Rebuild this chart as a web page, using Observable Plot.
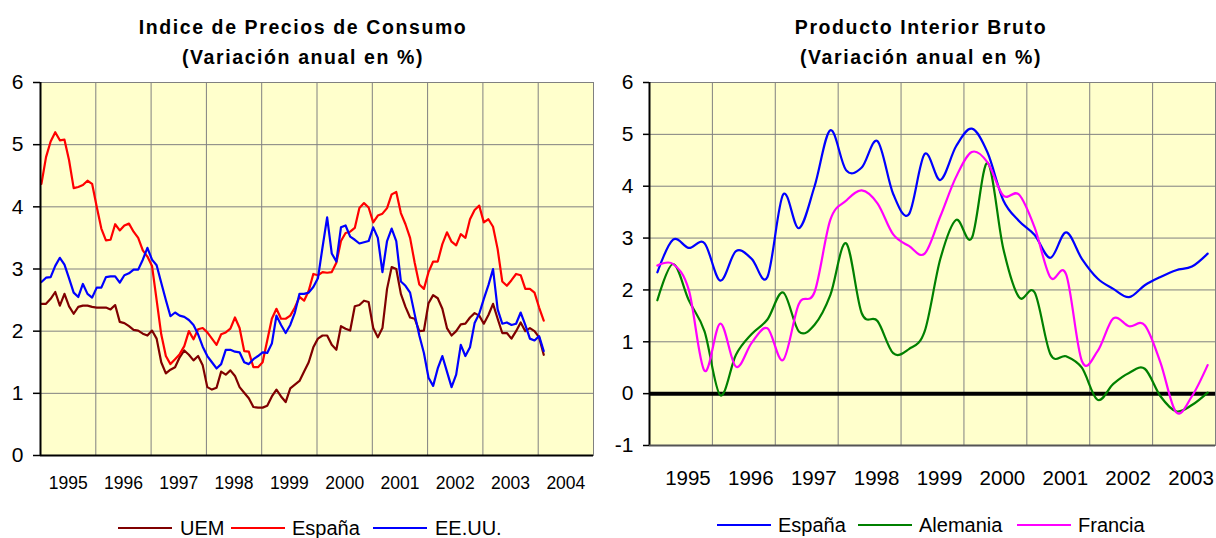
<!DOCTYPE html>
<html><head><meta charset="utf-8">
<script src="https://cdn.jsdelivr.net/npm/d3@7"></script>
<script src="https://cdn.jsdelivr.net/npm/@observablehq/plot@0.6"></script>
<style>
body{margin:0;background:#fff;font-family:"Liberation Sans",Arial,sans-serif;}
#wrap{position:relative;width:1216px;height:538px;overflow:hidden;background:#fff;}
.t{position:absolute;font-weight:bold;font-size:19.5px;line-height:1;letter-spacing:1.6px;white-space:nowrap;transform:translateX(-50%);color:#000;}
.chart{position:absolute;top:0;}
.li{position:absolute;height:2px;width:54px;}
.lt{position:absolute;font-size:20px;line-height:1;white-space:nowrap;color:#000;}
</style></head>
<body>
<div id="wrap">
  <div class="t" style="left:303px;top:18px">Indice de Precios de Consumo</div>
  <div class="t" style="left:303px;top:48px">(Variación anual en %)</div>
  <div class="t" style="left:921px;top:18px">Producto Interior Bruto</div>
  <div class="t" style="left:921px;top:48px">(Variación anual en %)</div>
  <div id="c1" class="chart" style="left:0px"></div>
  <div id="c2" class="chart" style="left:600px"></div>
  <div id="leg"></div>
</div>
<script>
// ---------- IPC (monthly, Jan 1995 - Feb 2004) ----------
const ipcSeries = ["UEM", "España", "EE.UU."];
const ipcColors = ["#800000", "#FF0000", "#0000FF"];
const ipcUEM = [2.44,2.44,2.52,2.63,2.41,2.6,2.4,2.28,2.39,2.41,2.41,2.39,
  2.38,2.38,2.38,2.35,2.42,2.15,2.13,2.08,2.02,2.01,1.96,1.93,
  2.01,1.88,1.5,1.32,1.38,1.42,1.58,1.69,1.62,1.53,1.6,1.45,
  1.1,1.06,1.09,1.35,1.3,1.37,1.28,1.1,1.01,0.92,0.78,0.77,
  0.77,0.8,0.95,1.06,0.95,0.86,1.08,1.14,1.2,1.35,1.5,1.74,
  1.88,1.93,1.93,1.78,1.7,2.08,2.04,2.01,2.4,2.42,2.49,2.47,
  2.05,1.9,2.05,2.68,3.03,3.0,2.6,2.39,2.22,2.2,2.0,2.01,
  2.45,2.58,2.53,2.36,2.05,1.93,2.0,2.11,2.12,2.22,2.29,2.25,
  2.12,2.26,2.44,2.2,1.97,1.97,1.88,2.0,2.14,2.0,2.05,2.0,
  1.9,1.62];
const ipcEspana = [4.37,4.8,5.05,5.2,5.07,5.08,4.75,4.3,4.32,4.35,4.42,4.37,
  4.0,3.65,3.46,3.47,3.72,3.62,3.7,3.73,3.6,3.5,3.3,3.2,
  3.05,2.5,1.95,1.6,1.47,1.55,1.63,1.76,2.0,1.87,2.03,2.05,
  1.98,1.88,1.78,1.95,1.98,2.04,2.22,2.05,1.68,1.67,1.42,1.42,
  1.5,1.85,2.2,2.36,2.2,2.2,2.25,2.38,2.55,2.49,2.65,2.92,
  2.9,2.95,2.94,2.95,3.1,3.45,3.58,3.6,3.66,3.98,4.06,3.99,
  3.75,3.86,3.89,3.98,4.2,4.24,3.9,3.72,3.5,3.1,2.75,2.68,
  2.95,3.12,3.12,3.4,3.59,3.44,3.38,3.56,3.5,3.8,3.95,4.02,
  3.75,3.8,3.68,3.32,2.8,2.73,2.82,2.92,2.9,2.68,2.68,2.62,
  2.38,2.17];
const ipcEEUU = [2.79,2.86,2.87,3.05,3.18,3.07,2.85,2.62,2.55,2.76,2.6,2.54,
  2.7,2.7,2.87,2.88,2.88,2.78,2.9,2.93,2.99,2.99,3.15,3.34,
  3.15,3.06,2.78,2.5,2.24,2.3,2.25,2.23,2.18,2.1,1.95,1.75,
  1.6,1.5,1.4,1.47,1.7,1.7,1.67,1.66,1.5,1.47,1.55,1.6,
  1.66,1.65,1.8,2.25,2.1,1.97,2.1,2.3,2.6,2.6,2.62,2.71,
  2.85,3.35,3.83,3.25,3.12,3.67,3.7,3.52,3.47,3.41,3.43,3.45,
  3.67,3.5,2.95,3.45,3.65,3.45,2.8,2.73,2.62,2.27,1.93,1.65,
  1.25,1.12,1.4,1.6,1.35,1.1,1.3,1.78,1.6,1.74,2.13,2.28,
  2.52,2.74,3.0,2.35,2.12,2.14,2.1,2.12,2.3,2.1,1.88,1.85,
  1.92,1.68];
const ipcYears = [1995,1996,1997,1998,1999,2000,2001,2002,2003,2004];
const ipcTicksY = [0,1,2,3,4,5,6];

// ---------- PIB (quarterly, 1995Q1 - 2003Q4) ----------
const pibSeries = ["España", "Alemania", "Francia"];
const pibColors = ["#0000FF", "#008000", "#FF00FF"];
const pibEspana = [2.34,2.97,2.81,2.9,2.18,2.75,2.6,2.25,3.84,3.19,4.0,5.08,
  4.31,4.36,4.87,3.85,3.46,4.62,4.12,4.77,5.11,4.65,3.73,3.33,
  3.06,2.62,3.11,2.6,2.22,2.02,1.86,2.09,2.25,2.38,2.45,2.7];
const pibAlemania = [1.8,2.5,1.8,1.2,-0.03,0.75,1.15,1.43,1.95,1.2,1.33,1.9,
  2.9,1.55,1.4,0.78,0.86,1.2,2.6,3.35,3.0,4.45,2.8,1.86,
  1.95,0.76,0.72,0.5,-0.12,0.19,0.4,0.48,-0.05,-0.34,-0.22,0.02];
const pibFrancia = [2.47,2.5,2.0,0.44,1.35,0.52,0.98,1.26,0.65,1.73,1.96,3.35,
  3.72,3.92,3.67,3.07,2.85,2.7,3.42,4.18,4.66,4.46,3.82,3.84,
  3.2,2.24,2.3,0.63,0.82,1.45,1.3,1.32,0.6,-0.36,-0.05,0.55];
const pibYears = [1995,1996,1997,1998,1999,2000,2001,2002,2003];
const pibTicksY = [-1,0,1,2,3,4,5,6];

// long-format tables
const ipcData = [ipcUEM, ipcEspana, ipcEEUU].flatMap((arr, k) =>
  arr.map((v, m) => ({serie: ipcSeries[k], t: 1995 + (m + 0.2) / 12, v})));
const pibData = [pibEspana, pibAlemania, pibFrancia].flatMap((arr, k) =>
  arr.map((v, q) => ({serie: pibSeries[k], t: 1995 + 0.125 + q * 0.25, v})));

const font = "Liberation Sans, Arial, sans-serif";
const grid = "#808080";
const intFmt = d => String(d);

const left = Plot.plot({
  width: 600, height: 500,
  marginLeft: 40, marginRight: 7, marginTop: 82, marginBottom: 45,
  x: {domain: [1995, 2005], axis: null, label: null},
  y: {domain: [0, 6], axis: null, label: null},
  color: {domain: ipcSeries, range: ipcColors},
  style: {fontFamily: font, color: "black", background: "transparent", overflow: "visible"},
  marks: [
    Plot.frame({fill: "#FFFFCC", stroke: grid}),
    Plot.gridX(ipcYears.slice(1), {stroke: grid, strokeOpacity: 1}),
    Plot.gridY(ipcTicksY.slice(1), {stroke: grid, strokeOpacity: 1}),
    Plot.line(ipcData, {x: "t", y: "v", z: "serie", stroke: "serie", strokeWidth: 2.2}),
    Plot.ruleX([1995], {stroke: "black", strokeWidth: 2}),
    Plot.ruleY([0], {stroke: "black", strokeWidth: 2}),
    Plot.axisY(ipcTicksY, {tickSize: 7, tickPadding: 10, fontSize: 21, strokeWidth: 1.5, label: null, tickFormat: intFmt}),
    Plot.axisX(ipcYears.map(y => y + 0.5), {tickSize: 0, tickPadding: 21, fontSize: 17.5, label: null,
      tickFormat: d => String(Math.floor(d))})
  ]
});
document.getElementById("c1").append(left);

const right = Plot.plot({
  width: 616, height: 500,
  marginLeft: 49, marginRight: 1, marginTop: 82, marginBottom: 55,
  x: {domain: [1995, 2004], axis: null, label: null},
  y: {domain: [-1, 6], axis: null, label: null},
  color: {domain: pibSeries, range: pibColors},
  style: {fontFamily: font, color: "black", background: "transparent", overflow: "visible"},
  marks: [
    Plot.frame({fill: "#FFFFCC", stroke: grid}),
    Plot.gridX(pibYears.slice(1), {stroke: grid, strokeOpacity: 1}),
    Plot.gridY(pibTicksY.slice(1), {stroke: grid, strokeOpacity: 1}),
    Plot.ruleY([0], {stroke: "black", strokeWidth: 4}),
    Plot.line(pibData, {x: "t", y: "v", z: "serie", stroke: "serie", strokeWidth: 2.2, curve: "cardinal"}),
    Plot.ruleX([1995], {stroke: "black", strokeWidth: 2}),
    Plot.ruleY([-1], {stroke: "#555", strokeWidth: 2}),
    Plot.axisY(pibTicksY, {tickSize: 6, tickPadding: 10, fontSize: 21, strokeWidth: 1.5, label: null, tickFormat: intFmt}),
    Plot.axisX(pibYears.map(y => y + 0.5), {tickSize: 0, tickPadding: 25, fontSize: 20.5, dx: 7, label: null,
      tickFormat: d => String(Math.floor(d))})
  ]
});
document.getElementById("c2").append(right);

// legends (HTML, below the SVGs)
const leg = document.getElementById("leg");
function legendItem(lineX, textX, cy, color, label) {
  const l = document.createElement("div");
  l.className = "li"; l.style.left = lineX + "px"; l.style.top = (cy - 1) + "px"; l.style.background = color;
  const t = document.createElement("div");
  t.className = "lt"; t.style.left = textX + "px"; t.style.top = (cy - 10) + "px"; t.textContent = label;
  leg.append(l, t);
}
const ipcLegX = [[118, 180], [231, 292], [373, 435]];
ipcSeries.forEach((s, i) => legendItem(ipcLegX[i][0], ipcLegX[i][1], 528, ipcColors[i], s));
const pibLegX = [[717, 778], [858, 919], [1017, 1078]];
pibSeries.forEach((s, i) => legendItem(pibLegX[i][0], pibLegX[i][1], 525, pibColors[i], s));
</script>
</body></html>
